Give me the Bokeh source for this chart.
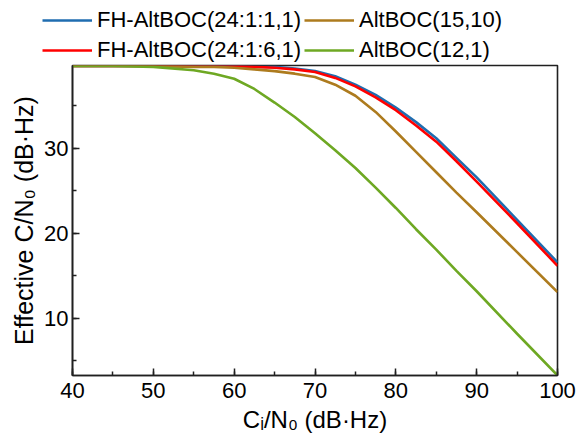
from bokeh.plotting import figure
from bokeh.layouts import column, row
from bokeh.models import Legend, LegendItem, Range1d, SingleIntervalTicker
from bokeh.embed import file_html
from bokeh.resources import INLINE

# ---- data ----
ci_n0 = [40, 45, 50, 55, 57.5, 60, 62.5, 65, 67.5, 70, 72.5, 75, 77.5, 80, 82.5, 85, 87.5, 90, 95, 100]
fh_1_1 = [39.7, 39.7, 39.7, 39.7, 39.7, 39.7, 39.6, 39.6, 39.4, 39.1, 38.5, 37.5, 36.3, 34.8, 33.1, 31.2, 28.9, 26.6, 21.6, 16.6]
fh_6_1 = [39.7, 39.7, 39.7, 39.7, 39.7, 39.7, 39.6, 39.5, 39.3, 39.0, 38.3, 37.3, 36.0, 34.5, 32.7, 30.8, 28.5, 26.1, 21.2, 16.2]
altboc_15_10 = [39.7, 39.7, 39.7, 39.6, 39.6, 39.5, 39.3, 39.1, 38.8, 38.4, 37.5, 36.2, 34.3, 32.0, 29.6, 27.2, 24.8, 22.5, 17.8, 13.1]
altboc_12_1 = [39.7, 39.7, 39.6, 39.2, 38.8, 38.2, 37.0, 35.4, 33.7, 31.8, 29.8, 27.7, 25.4, 23.0, 20.5, 18.1, 15.6, 13.2, 8.2, 3.3]

names = ["FH-AltBOC(24:1:1,1)", "FH-AltBOC(24:1:6,1)", "AltBOC(15,10)", "AltBOC(12,1)"]
colors = ["#1f6db0", "#ff0000", "#ad7b1e", "#6ea823"]
x_label = "C\u1d62/N\u2080 (dB\u00b7Hz)"
y_label = "Effective C/N\u2080 (dB\u00b7Hz)"

FONT = "Liberation Sans"
LW = 2.6

# ---------------- main plot ----------------
p = figure(width=577, height=372, output_backend="svg", toolbar_location=None,
           x_range=Range1d(40, 100), y_range=Range1d(3.29, 39.76),
           min_border_left=72, min_border_right=20, min_border_top=2, min_border_bottom=60)

series = [fh_1_1, fh_6_1, altboc_15_10, altboc_12_1]
for ys, c in zip(series, colors):
    p.line(ci_n0, ys, line_color=c, line_width=LW)

p.xgrid.visible = False
p.ygrid.visible = False
p.outline_line_color = "#202020"
p.outline_line_width = 1.6
p.background_fill_color = "white"
p.border_fill_color = "white"

p.xaxis[0].ticker = SingleIntervalTicker(interval=10, num_minor_ticks=2)
p.yaxis[0].ticker = SingleIntervalTicker(interval=10, num_minor_ticks=2)

for ax in (p.xaxis[0], p.yaxis[0]):
    ax.axis_line_color = "#202020"
    ax.axis_line_width = 1.6
    ax.major_tick_in = 7
    ax.major_tick_out = 0
    ax.minor_tick_in = 4
    ax.minor_tick_out = 0
    ax.major_tick_line_width = 1.5
    ax.minor_tick_line_width = 1.5
    ax.major_tick_line_color = "#202020"
    ax.minor_tick_line_color = "#202020"
    ax.major_label_text_font = FONT
    ax.major_label_text_font_size = "22px"
    ax.major_label_text_color = "black"
    ax.axis_label_text_font = FONT
    ax.axis_label_text_font_style = "normal"
    ax.axis_label_text_color = "black"

p.xaxis.axis_label_text_font_size = "24px"
p.yaxis.axis_label_text_font_size = "25px"
p.xaxis.major_label_standoff = 7
p.xaxis.axis_label_standoff = 5
p.yaxis.major_label_standoff = 4
p.yaxis.axis_label_standoff = 3
p.xaxis.axis_label = x_label
p.yaxis.axis_label = y_label

# ---------------- legend strip above the plot ----------------
top = figure(width=577, height=63, output_backend="svg", toolbar_location=None,
             x_range=Range1d(0, 1), y_range=Range1d(0, 1),
             x_axis_type=None, y_axis_type=None,
             min_border_left=0, min_border_right=0, min_border_top=0, min_border_bottom=0)
top.xgrid.visible = False
top.ygrid.visible = False
top.outline_line_color = None
top.background_fill_color = "white"
top.border_fill_color = "white"

items = []
for name, c in zip(names, colors):
    # a single off-screen point: nothing visible is drawn, only the legend sample
    r = top.line(x=[-5], y=[-5], line_color=c, line_width=LW)
    items.append(LegendItem(label=name, renderers=[r]))

legend = Legend(items=items, location=(42, -2), ncols=2)
legend.label_text_font = FONT
legend.label_text_font_size = "22px"
legend.label_text_color = "black"
legend.glyph_width = 50
legend.glyph_height = 30
legend.label_height = 30
legend.label_width = 207
legend.label_standoff = 5
legend.spacing = 0
legend.padding = 0
legend.margin = 0
legend.border_line_alpha = 0
legend.background_fill_alpha = 0
top.add_layout(legend, "center")

layout = column(row(top), p, spacing=0)
open("out.html", "w").write(file_html(layout, INLINE))
